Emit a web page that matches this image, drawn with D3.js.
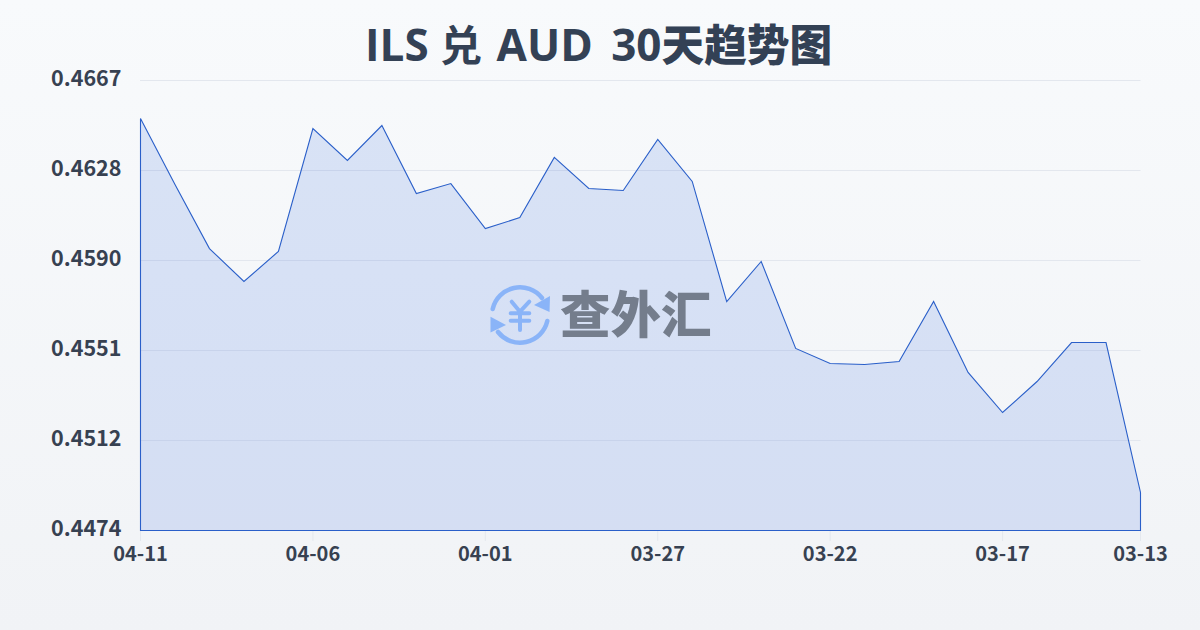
<!DOCTYPE html>
<html><head><meta charset="utf-8">
<script src="https://cdn.jsdelivr.net/npm/d3@7/dist/d3.min.js"></script>
<style>html,body{margin:0;padding:0;width:1200px;height:630px;overflow:hidden}svg{display:block}</style>
</head><body><svg id="c" width="1200" height="630"></svg>
<script>
const titleLead = "ILS ";
const titleCny = "兑";
const titleMid = " AUD ";
const titleDays = "30";
const titleTail = "天趋势图";
const dates = ["04-11","04-10","04-09","04-08","04-07","04-06","04-05","04-04","04-03","04-02","04-01","03-31","03-30","03-29","03-28","03-27","03-26","03-25","03-24","03-23","03-22","03-21","03-20","03-19","03-18","03-17","03-16","03-15","03-14","03-13"];
const rates = [0.46507,0.46224,0.45949,0.45808,0.45937,0.46464,0.46327,0.46477,0.46185,0.46228,0.46035,0.46082,0.46340,0.46207,0.46198,0.46417,0.46237,0.45722,0.45894,0.45521,0.45456,0.45452,0.45465,0.45722,0.45418,0.45246,0.45379,0.45546,0.45546,0.44903];
const yTicks = [0.4474,0.4512,0.4551,0.4590,0.4628,0.4667];
const xTicks = ["04-11","04-06","04-01","03-27","03-22","03-17","03-13"];
const yMin = 0.4474, yMax = 0.4667;
const latin = '"Open Sans","Noto Sans CJK SC",sans-serif';
const cjk = '"Noto Sans CJK SC",sans-serif';

const svg = d3.select("#c");
const defs = svg.append("defs");
const bg = defs.append("linearGradient").attr("id","bg").attr("x1",0).attr("y1",0).attr("x2",0).attr("y2",1);
bg.append("stop").attr("offset",0).attr("stop-color","#f8fafc");
bg.append("stop").attr("offset",1).attr("stop-color","#f1f3f6");
svg.append("rect").attr("width",1200).attr("height",630).attr("fill","url(#bg)");

const x = d3.scalePoint().domain(dates).range([140.5,1140.5]);
const y = d3.scaleLinear().domain([yMin,yMax]).range([530.5,80.5]);

const title = svg.append("text").attr("x",365).attr("y",61)
  .attr("font-family",latin).attr("font-weight",700).attr("font-size",44).attr("fill","#334155");
title.append("tspan").text(titleLead);
title.append("tspan").attr("font-family",cjk).attr("font-size",42).text(titleCny);
title.append("tspan").attr("dx",3).text(titleMid);
title.append("tspan").attr("dx",7).text(titleDays);
title.append("tspan").attr("font-family",cjk).attr("font-size",42.7).attr("font-weight",900).text(titleTail);

const grid = svg.append("g");
grid.selectAll("line").data(yTicks.slice(1)).join("line")
  .attr("x1",140).attr("x2",1140.5).attr("y1",(d,i)=>80.5+(4-i)*90).attr("y2",(d,i)=>80.5+(4-i)*90)
  .attr("stroke","#e3e7ee").attr("stroke-width",1);
grid.selectAll("path").data(xTicks).join("path")
  .attr("d",d=>`M${x(d)},531V541`).attr("stroke","#e4e8ee").attr("stroke-width",1);

const area = d3.area().x((d,i)=>x(dates[i])).y0(y(yMin)).y1(d=>y(d));
svg.append("path").datum(rates).attr("d",d=>area(d)+"Z").attr("fill","#2f62dc").attr("fill-opacity",0.15)
  .attr("stroke","#2a5fc9").attr("stroke-width",1.1).attr("stroke-linejoin","miter");

svg.append("g").selectAll("text").data(yTicks).join("text")
  .attr("x",121.5).attr("y",(d,i)=>530.5-i*90+5.5).attr("text-anchor","end")
  .attr("font-family",cjk).attr("font-weight",700).attr("font-size",21.5).attr("fill","#374151")
  .text(d=>d.toFixed(4));
svg.append("g").selectAll("text").data(xTicks).join("text")
  .attr("x",d=>x(d)).attr("y",560.5).attr("text-anchor","middle")
  .attr("font-family",cjk).attr("font-weight",700).attr("font-size",20).attr("fill","#374151")
  .text(d=>d);

// watermark
const w = svg.append("g").attr("transform","translate(520,315)");
const blue="#8ab4f8";
const arcStyle = p => p.attr("fill","none").attr("stroke",blue).attr("stroke-width",4.5).attr("stroke-linecap","round");
w.append("path").attr("d","M-27.3,-6A28,28 0 0 1 22,-17").call(arcStyle);
w.append("path").attr("d","M27.3,6A28,28 0 0 1 -22,17").call(arcStyle);
w.append("path").attr("d","M30,-19L29.5,-3L14,-10Z").attr("fill",blue);
w.append("path").attr("d","M-29.5,1.7L-29.5,17.5L-14,10Z").attr("fill",blue);
w.append("path").attr("d","M-8.3,-13.3L0,-3.3L9.3,-13.3M-9.3,-1.7H9.3M-9.3,5.7H9.3M0,-3.3V15").attr("fill","none").attr("stroke",blue).attr("stroke-width",4).attr("stroke-linecap","round").attr("stroke-linejoin","round");
svg.append("text").attr("x",560).attr("y",333).attr("font-family",cjk).attr("font-weight",900)
  .attr("font-size",50.5).attr("fill","#747d8c").text("查外汇");
</script></body></html>
